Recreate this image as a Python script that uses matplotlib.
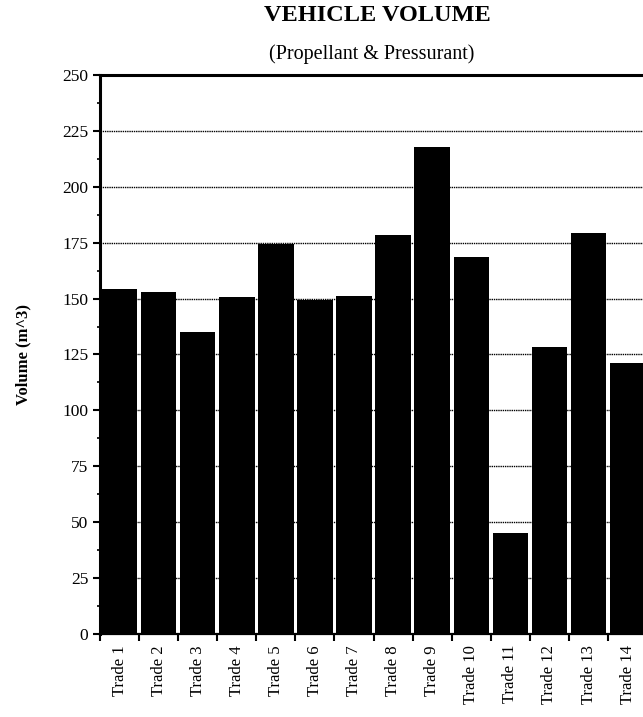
import numpy as np
import matplotlib.pyplot as plt
from matplotlib.ticker import MultipleLocator, FixedLocator, NullFormatter

trades = ['Trade 1', 'Trade 2', 'Trade 3', 'Trade 4', 'Trade 5', 'Trade 6', 'Trade 7',
          'Trade 8', 'Trade 9', 'Trade 10', 'Trade 11', 'Trade 12', 'Trade 13', 'Trade 14']
volume = [154.5, 153, 135, 150.5, 174.5, 149.5, 151, 178.5, 218, 168.5, 45, 128.5, 179.5, 121]

plt.rcParams['font.family'] = ['Liberation Serif', 'DejaVu Serif']

fig = plt.figure(figsize=(6.43, 7.17), dpi=100)
# axes runs past the right edge, like the cropped original
ax = fig.add_axes([0.1555, 0.1158, 0.851, 0.7796])

x = np.arange(len(trades))
ax.bar(x, volume, width=0.91, color='black', zorder=3)

ax.set_xlim(-0.5, len(trades) - 0.5)
ax.set_ylim(0, 250)

ax.yaxis.set_major_locator(MultipleLocator(25))
ax.yaxis.set_minor_locator(MultipleLocator(12.5))
ax.grid(axis='y', which='major', color='black', linestyle=(0, (1, 0.6)), linewidth=1.0, zorder=0)
ax.set_axisbelow(True)

# ticks between bars, labels centred under bars
ax.xaxis.set_major_locator(FixedLocator(np.arange(len(trades) + 1) - 0.5))
ax.xaxis.set_major_formatter(NullFormatter())
ax.xaxis.set_minor_locator(FixedLocator(x))
ax.set_xticklabels(trades, minor=True, rotation=90, fontsize=12)
ax.tick_params(axis='x', which='major', direction='out', length=5, width=1.5)
ax.tick_params(axis='x', which='minor', length=0, pad=8)
ax.tick_params(axis='y', which='major', direction='out', length=5, width=1.5, labelsize=12.5)
ax.tick_params(axis='y', which='minor', direction='out', length=2.5, width=1.2)

for side in ['top', 'left']:
    ax.spines[side].set_linewidth(2.2)
ax.spines['bottom'].set_linewidth(1.6)
ax.spines['right'].set_visible(False)

ax.set_ylabel('Volume (m^3)', fontsize=12, fontweight='bold', labelpad=22)

fig.text(0.587, 0.971, 'VEHICLE VOLUME', ha='center', va='baseline',
         fontsize=17.5, fontweight='bold')
fig.text(0.578, 0.918, '(Propellant & Pressurant)', ha='center', va='baseline',
         fontsize=14.5)

fig.savefig('out.png', dpi=100)
